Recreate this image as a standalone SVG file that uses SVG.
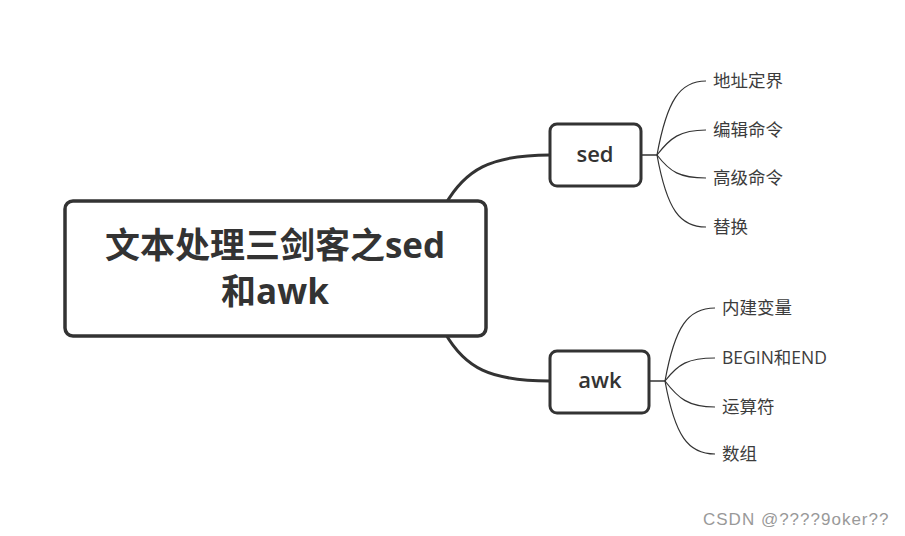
<svg xmlns="http://www.w3.org/2000/svg" width="905" height="536" viewBox="0 0 905 536">
<style>
.box{fill:#fff;stroke:#333;}
.conn{fill:none;stroke:#333;}
.main{font-family:"Open Sans","Noto Sans CJK SC",sans-serif;font-weight:bold;font-size:35px;fill:#333;text-anchor:middle;}
.sub{font-family:"Open Sans","Noto Sans CJK SC",sans-serif;font-size:22px;font-weight:600;fill:#333;text-anchor:middle;}
.leaf{font-family:"Open Sans","Noto Sans CJK SC",sans-serif;font-size:17.5px;fill:#3c3c3c;}
.wm{font-family:"Liberation Sans",Arial,sans-serif;font-size:17px;letter-spacing:1px;fill:#999;}
</style>
<rect width="905" height="536" fill="#fff"/>
<g id="connectors">
<path class="conn" stroke-width="3" d="M445,205 C465,170 490,155 550,155"/>
<path class="conn" stroke-width="3" d="M445,333 C465,368 490,381 550,381"/>
<path class="conn" stroke-width="1.5" d="M641,155 L657,155"/>
<path class="conn" stroke-width="1.2" d="M657,155 C667,100 680,81 706,81"/>
<path class="conn" stroke-width="1.2" d="M657,155 C670,138 680,130 706,130"/>
<path class="conn" stroke-width="1.2" d="M657,155 C670,172 680,178 706,178"/>
<path class="conn" stroke-width="1.2" d="M657,155 C667,210 680,227 706,227"/>
<path class="conn" stroke-width="1.5" d="M649,381 L665,381"/>
<path class="conn" stroke-width="1.2" d="M665,381 C675,326 688,308 715,308"/>
<path class="conn" stroke-width="1.2" d="M665,381 C678,364 688,358 715,358"/>
<path class="conn" stroke-width="1.2" d="M665,381 C678,398 688,407 715,407"/>
<path class="conn" stroke-width="1.2" d="M665,381 C675,436 688,454 715,454"/>
</g>
<g id="root">
<rect class="box" stroke-width="3.5" x="65" y="201" width="421" height="135" rx="8"/>
<text class="main" x="275" y="258">文本处理三剑客之sed</text>
<text class="main" x="275" y="304">和awk</text>
</g>
<g id="sed">
<rect class="box" stroke-width="3" x="550" y="124" width="91" height="62" rx="7"/>
<text class="sub" x="595" y="162">sed</text>
</g>
<g id="awk">
<rect class="box" stroke-width="3" x="550" y="351" width="99" height="62" rx="7"/>
<text class="sub" x="600" y="388">awk</text>
</g>
<g id="sed-children">
<text class="leaf" x="713" y="87">地址定界</text>
<text class="leaf" x="713" y="136">编辑命令</text>
<text class="leaf" x="713" y="184">高级命令</text>
<text class="leaf" x="713" y="233">替换</text>
</g>
<g id="awk-children">
<text class="leaf" x="722" y="314">内建变量</text>
<text class="leaf" x="722" y="364">BEGIN和END</text>
<text class="leaf" x="722" y="413">运算符</text>
<text class="leaf" x="722" y="460">数组</text>
</g>
<text class="wm" x="703" y="525">CSDN @????9oker??</text>
</svg>
